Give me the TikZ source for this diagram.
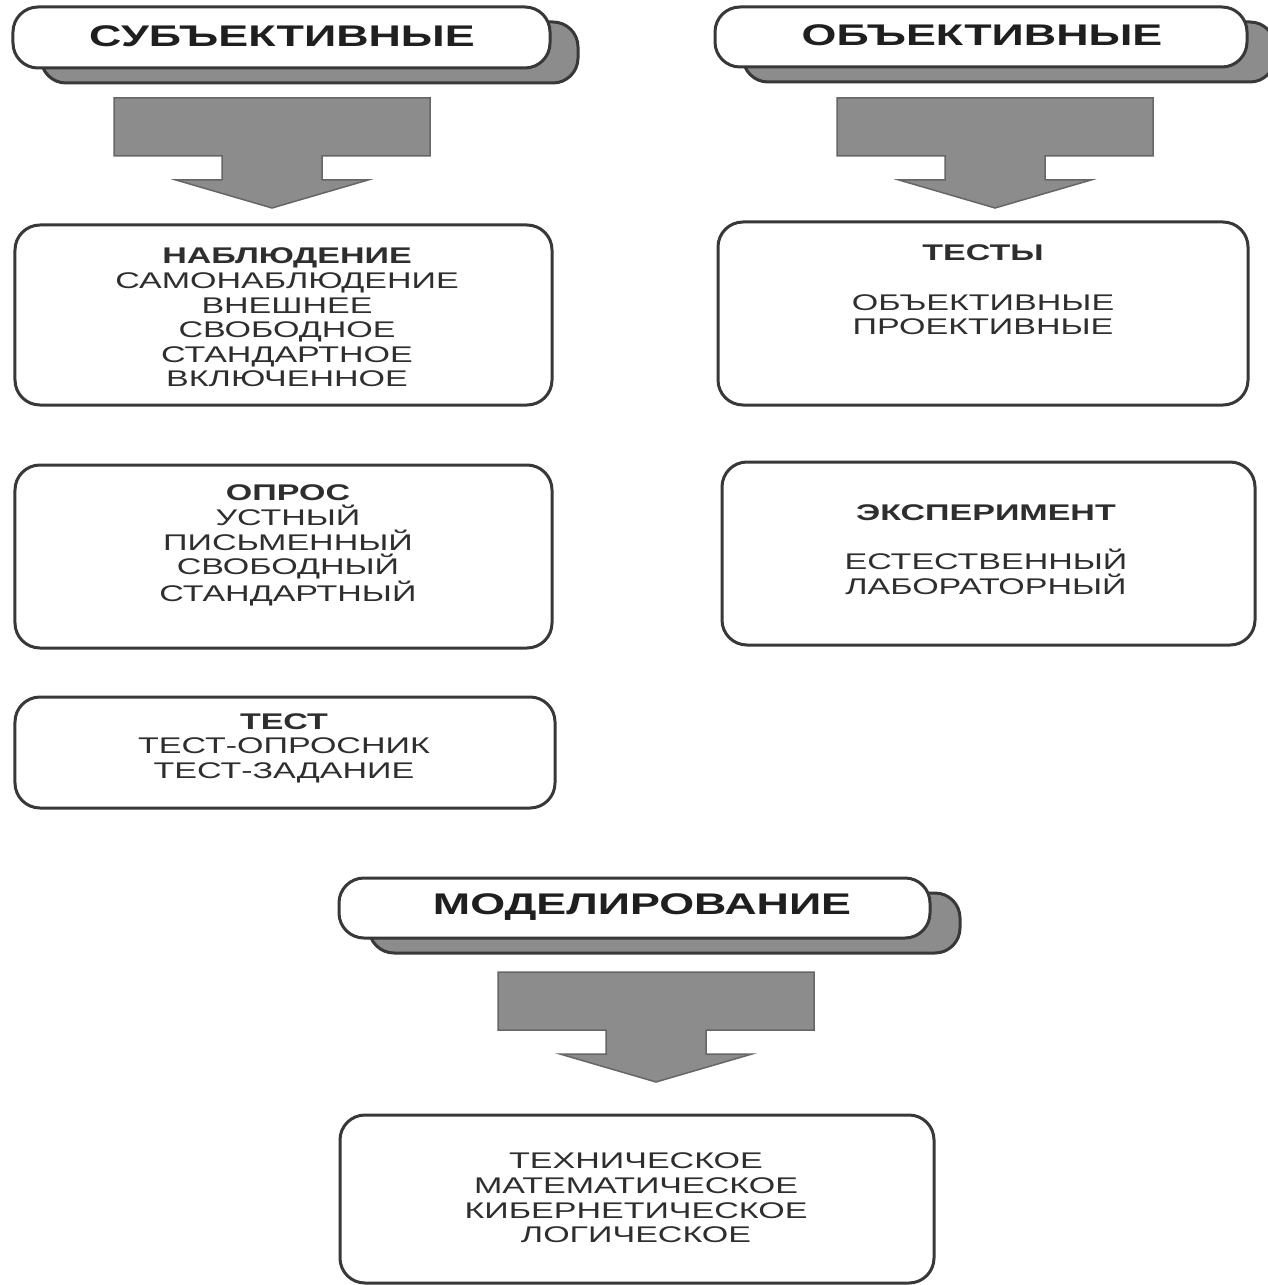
\documentclass[tikz,border=0pt]{standalone}
\usepackage{fontspec}
\setmainfont{Liberation Sans}[FakeStretch=1.5]
\newcommand{\hdrfont}{\fontsize{17}{19}\selectfont\bfseries}
\newcommand{\txtfont}{\fontsize{12.9}{14}\selectfont}
\newcommand{\blockarrow}[1]{%
  \filldraw[blockarr, shift={(#1)}] (-158,0) -- (158,0) -- (158,58) -- (50,58)
    -- (50,82) -- (96,82) -- (0,110) -- (-96,82) -- (-50,82) -- (-50,58)
    -- (-158,58) -- cycle;}

\begin{document}
\begin{tikzpicture}[x=0.2mm, y=-0.2mm,
    box/.style={draw=black!78, line width=0.6mm, rounded corners=5mm, fill=white},
    shadowbox/.style={box, fill=black!45},
    blockarr/.style={draw=black!60, line width=0.3mm, fill=black!45},
    title/.style={font=\hdrfont, text=black!88},
    txt/.style={font=\txtfont, text=black!82, align=center}]
  \useasboundingbox[fill=white] (0,0) rectangle (1268,1285);

  % headers with shadows
  \node[shadowbox, minimum width=107.4mm, minimum height=12.2mm] (subj-sh) at (309.5,52.5) {};
  \node[box, minimum width=107.4mm, minimum height=12.2mm] (subj) at (281.5,37.5) {};
  \node[title] (subj-txt) at (282,36) {СУБЪЕКТИВНЫЕ};
  \node[shadowbox, minimum width=106.4mm, minimum height=12mm] (obj-sh) at (1009,52) {};
  \node[box, minimum width=106.4mm, minimum height=12mm] (obj) at (981,37) {};
  \node[title] (obj-txt) at (982,35) {ОБЪЕКТИВНЫЕ};
  \node[shadowbox, minimum width=118.2mm, minimum height=12mm] (model-sh) at (664.5,923) {};
  \node[box, minimum width=118.2mm, minimum height=12mm] (model) at (634.5,908) {};
  \node[title] (model-txt) at (642,907) {МОДЕЛИРОВАНИЕ};

  % block arrows
  \coordinate (arr-subj) at (272,98);
  \coordinate (arr-obj) at (995,98);
  \coordinate (arr-model) at (656,972);
  \blockarrow{arr-subj}
  \blockarrow{arr-obj}
  \blockarrow{arr-model}

  % method boxes
  \node[box, minimum width=107.4mm, minimum height=36mm] (nabl) at (283.5,315) {};
  \node[txt] (nabl-txt) at (287,317.5) {{\bfseries НАБЛЮДЕНИЕ}\\ САМОНАБЛЮДЕНИЕ\\ ВНЕШНЕЕ\\
    СВОБОДНОЕ\\ СТАНДАРТНОЕ\\ ВКЛЮЧЕННОЕ};
  \node[box, minimum width=107.4mm, minimum height=36.6mm] (opros) at (283.5,556.5) {};
  \node[txt] (opros-txt) at (288,545.5) {{\bfseries ОПРОС}\\ УСТНЫЙ\\ ПИСЬМЕННЫЙ\\
    СВОБОДНЫЙ\\ СТАНДАРТНЫЙ};
  \node[box, minimum width=108mm, minimum height=22.2mm] (test) at (285,752.5) {};
  \node[txt] (test-txt) at (284,748) {{\bfseries ТЕСТ}\\ ТЕСТ-ОПРОСНИК\\ ТЕСТ-ЗАДАНИЕ};
  \node[box, minimum width=106mm, minimum height=36.6mm] (testy) at (983,313.5) {};
  \node[txt] (testy-txt) at (983,290) {{\bfseries ТЕСТЫ}\\[14pt] ОБЪЕКТИВНЫЕ\\ ПРОЕКТИВНЫЕ};
  \node[box, minimum width=106.6mm, minimum height=36.6mm] (eksp) at (988.5,553.5) {};
  \node[txt] (eksp-txt) at (986,549.5) {{\bfseries ЭКСПЕРИМЕНТ}\\[14pt] ЕСТЕСТВЕННЫЙ\\
    ЛАБОРАТОРНЫЙ};
  \node[box, minimum width=118.8mm, minimum height=33.6mm] (modelbox) at (637,1199) {};
  \node[txt] (modelbox-txt) at (636,1198) {ТЕХНИЧЕСКОЕ\\ МАТЕМАТИЧЕСКОЕ\\
    КИБЕРНЕТИЧЕСКОЕ\\ ЛОГИЧЕСКОЕ};
\end{tikzpicture}
\end{document}
